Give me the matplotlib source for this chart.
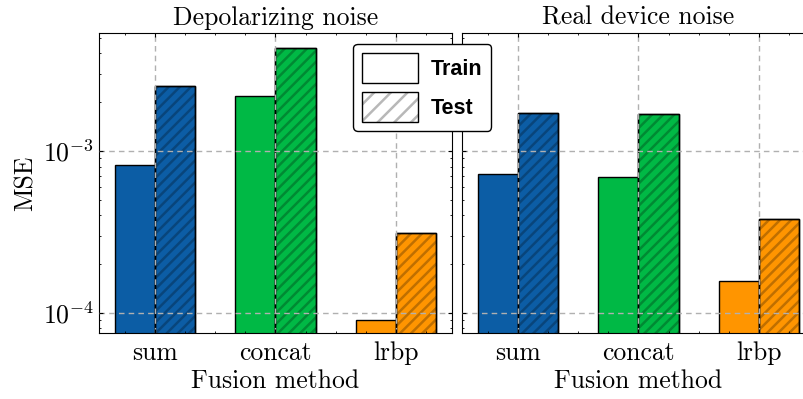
import matplotlib
matplotlib.use("Agg")
import matplotlib.pyplot as plt
import numpy as np
from matplotlib.patches import Patch
from matplotlib.ticker import AutoMinorLocator

plt.rcParams.update({
    "font.family": "serif",
    "font.serif": ["cmr10"],
    "mathtext.fontset": "cm",
    "axes.formatter.use_mathtext": True,
    "axes.unicode_minus": False,
    "xtick.direction": "in",
    "ytick.direction": "in",
    "xtick.top": True,
    "ytick.right": True,
    "xtick.major.size": 3,
    "ytick.major.size": 3,
    "xtick.minor.size": 1.5,
    "ytick.minor.size": 1.5,
    "axes.axisbelow": False,
    "hatch.linewidth": 1.8,
})

methods = ["sum", "concat", "lrbp"]
colors = ["#0C5DA5", "#00B945", "#FF9500"]

depol_train = [8.2e-4, 2.18e-3, 9.05e-5]
depol_test = [2.53e-3, 4.35e-3, 3.09e-4]
real_train = [7.24e-4, 6.89e-4, 1.58e-4]
real_test = [1.72e-3, 1.69e-3, 3.77e-4]

panels = [
    ("Depolarizing noise", depol_train, depol_test),
    ("Real device noise", real_train, real_test),
]

fs = 18.5

fig = plt.figure(figsize=(8.04, 3.99), dpi=100)
ax_l = fig.add_axes([0.1231, 0.1654, 0.439, 0.752])
ax_r = fig.add_axes([0.5746, 0.1654, 0.439, 0.752], sharey=ax_l)

x = np.arange(len(methods))
w = 1 / 3
hatch_col = (0, 0, 0, 0.25)

for ax, (title, train, test) in zip([ax_l, ax_r], panels):
    ax.bar(x - w / 2, train, w, color=colors, edgecolor="black", linewidth=1.0)
    ax.bar(x + w / 2, test, w, color=colors, edgecolor="black", linewidth=1.0)
    # hatch overlay so the stripes come out semi-transparent
    ax.bar(x + w / 2, test, w, color="none", edgecolor=hatch_col,
           hatch="///", linewidth=0)
    ax.bar(x + w / 2, test, w, color="none", edgecolor="black", linewidth=1.0)
    ax.set_yscale("log")
    ax.set_xticks(x)
    ax.set_xticklabels(methods, fontsize=fs)
    ax.xaxis.set_minor_locator(AutoMinorLocator(4))
    ax.set_title(title, fontsize=fs, pad=6)
    ax.set_xlabel("Fusion method", fontsize=fs, labelpad=3)
    ax.grid(True, which="major", linestyle=(0, (4, 3)), color="#b0b0b0", linewidth=1.0)
    ax.tick_params(axis="x", which="major", pad=6)

ax_l.set_ylim(7.5e-5, 5.35e-3)
ax_l.set_ylabel("MSE", fontsize=fs, labelpad=4)
ax_l.tick_params(axis="y", labelsize=fs)
ax_r.tick_params(axis="y", labelleft=False)

train_h = Patch(facecolor="white", edgecolor="black", linewidth=1.0)
test_h = (Patch(facecolor="white", edgecolor=(0.72, 0.72, 0.72), hatch="//", linewidth=0),
          Patch(facecolor="none", edgecolor="black", linewidth=1.0))
leg = fig.legend([train_h, test_h], ["Train", "Test"], loc="upper center",
                 bbox_to_anchor=(0.525, 0.89),
                 prop={"family": "Liberation Sans", "weight": "bold", "size": 15.5},
                 frameon=True, fancybox=True, framealpha=1.0, edgecolor="black",
                 handlelength=2.6, handleheight=1.8, borderpad=0.4, labelspacing=0.4,
                 handletextpad=0.6, borderaxespad=0)
leg.get_frame().set_linewidth(1.0)

fig.savefig("out.png", dpi=100)
